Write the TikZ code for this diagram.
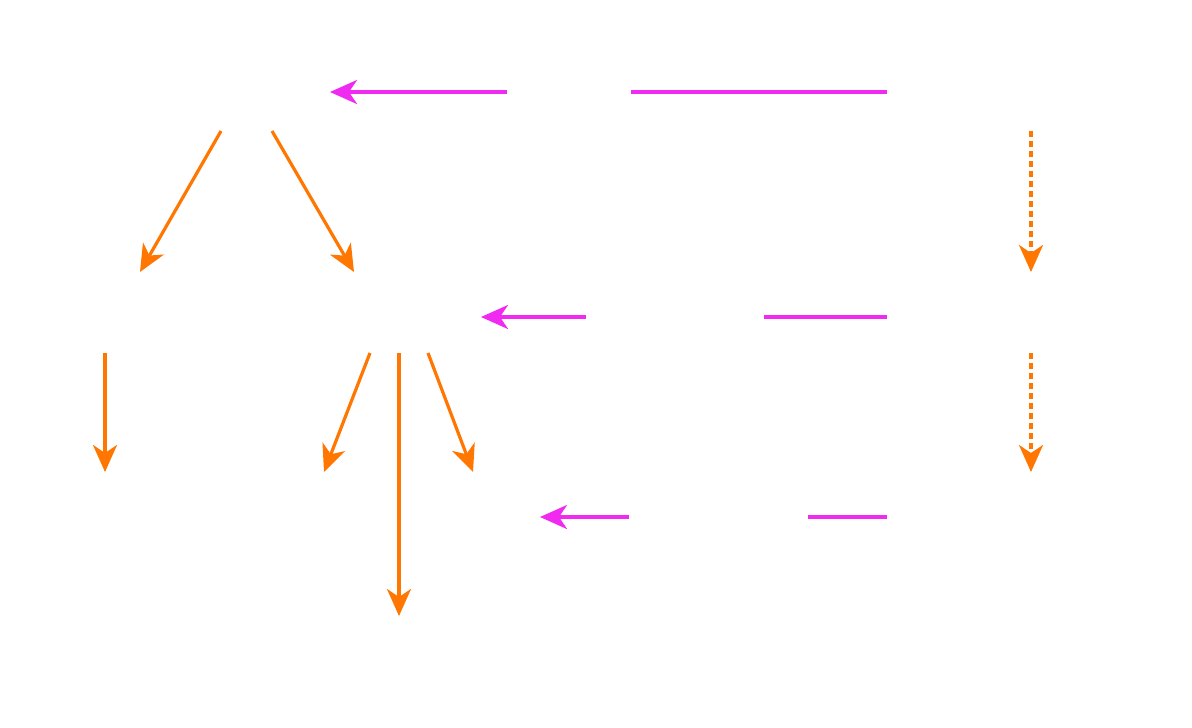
\documentclass[tikz,border=0pt]{standalone}
\usetikzlibrary{arrows.meta,calc}
\definecolor{edgeorange}{RGB}{255,119,0}
\definecolor{edgemagenta}{RGB}{240,42,240}
\begin{document}
\begin{tikzpicture}[x=1pt,y=-1pt,
  blank/.style={inner sep=0pt,minimum size=2pt},
  tree/.style={draw=edgeorange,line width=3.2pt,-{Stealth[length=27pt,width=24pt,inset=8pt,fill=edgeorange]}},
  chain/.style={tree,dash pattern=on 6pt off 4pt},
  link/.style={draw=edgemagenta,line width=3.2pt,-{Stealth[length=27pt,width=24pt,inset=8pt,fill=edgemagenta]}},
  gap/.style={fill=white,inner sep=0pt,minimum height=8pt}]
\path[fill=white] (0,0) rectangle (1192,728);
\node[blank] (A) at (246,92) {};
\node[blank] (R1) at (1031,92) {};
\node[blank] (B) at (105,317) {};
\node[blank] (C) at (399,317) {};
\node[blank] (R2) at (1031,317) {};
\node[blank] (D) at (105,517) {};
\node[blank] (E) at (324,517) {};
\node[blank] (G) at (473,517) {};
\node[blank] (R3) at (1031,517) {};
\node[blank] (F) at (399,661) {};
% tree edges
\draw[tree] ($(A)+(-25,39)$) -- ($(B)+(35,-45)$);
\draw[tree] ($(A)+(26,39)$) -- ($(C)+(-45,-45)$);
\draw[tree] ($(B)+(0,36)$) -- ($(D)+(0,-45)$);
\draw[tree] ($(C)+(-29,36)$) -- ($(E)+(0,-45)$);
\draw[tree] ($(C)+(0,36)$) -- ($(F)+(0,-45)$);
\draw[tree] ($(C)+(29,36)$) -- ($(G)+(0,-45)$);
% right chain
\draw[chain] ($(R1)+(0,39)$) -- ($(R2)+(0,-45)$);
\draw[chain] ($(R2)+(0,36)$) -- ($(R3)+(0,-45)$);
% links
\draw[link] ($(R1)+(-144,0)$) -- node[gap,pos=0.571,minimum width=124pt] {} ($(A)+(84,0)$);
\draw[link] ($(R2)+(-144,0)$) -- node[gap,pos=0.522,minimum width=178pt] {} ($(C)+(82,0)$);
\draw[link] ($(R3)+(-144,0)$) -- node[gap,pos=0.486,minimum width=179pt] {} ($(G)+(67,0)$);
\end{tikzpicture}
\end{document}
